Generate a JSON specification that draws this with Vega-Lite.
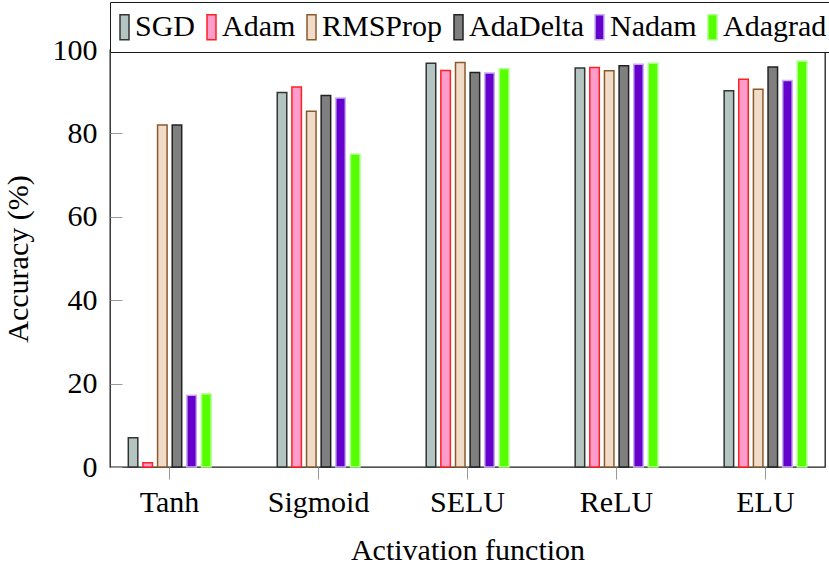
{
  "$schema": "https://vega.github.io/schema/vega-lite/v6.json",
  "width": 715,
  "height": 417,
  "autosize": {"type": "none"},
  "padding": {"left": 110, "top": 50, "right": 4, "bottom": 102},
  "config": {
    "font": "Liberation Serif",
    "view": {"stroke": "#1a1a1a", "strokeWidth": 1.3}
  },
  "data": {
    "values": [
      {"activation": "Tanh", "optimizer": "SGD", "accuracy": 7.0},
      {"activation": "Tanh", "optimizer": "Adam", "accuracy": 1.0},
      {"activation": "Tanh", "optimizer": "RMSProp", "accuracy": 82.0},
      {"activation": "Tanh", "optimizer": "AdaDelta", "accuracy": 82.0},
      {"activation": "Tanh", "optimizer": "Nadam", "accuracy": 17.2},
      {"activation": "Tanh", "optimizer": "Adagrad", "accuracy": 17.5},
      {"activation": "Sigmoid", "optimizer": "SGD", "accuracy": 89.8},
      {"activation": "Sigmoid", "optimizer": "Adam", "accuracy": 91.1},
      {"activation": "Sigmoid", "optimizer": "RMSProp", "accuracy": 85.3},
      {"activation": "Sigmoid", "optimizer": "AdaDelta", "accuracy": 89.1},
      {"activation": "Sigmoid", "optimizer": "Nadam", "accuracy": 88.5},
      {"activation": "Sigmoid", "optimizer": "Adagrad", "accuracy": 75.0},
      {"activation": "SELU", "optimizer": "SGD", "accuracy": 96.8},
      {"activation": "SELU", "optimizer": "Adam", "accuracy": 95.1},
      {"activation": "SELU", "optimizer": "RMSProp", "accuracy": 97.0},
      {"activation": "SELU", "optimizer": "AdaDelta", "accuracy": 94.6},
      {"activation": "SELU", "optimizer": "Nadam", "accuracy": 94.5},
      {"activation": "SELU", "optimizer": "Adagrad", "accuracy": 95.5},
      {"activation": "ReLU", "optimizer": "SGD", "accuracy": 95.7},
      {"activation": "ReLU", "optimizer": "Adam", "accuracy": 95.8},
      {"activation": "ReLU", "optimizer": "RMSProp", "accuracy": 95.0},
      {"activation": "ReLU", "optimizer": "AdaDelta", "accuracy": 96.2},
      {"activation": "ReLU", "optimizer": "Nadam", "accuracy": 96.6},
      {"activation": "ReLU", "optimizer": "Adagrad", "accuracy": 96.8},
      {"activation": "ELU", "optimizer": "SGD", "accuracy": 90.2},
      {"activation": "ELU", "optimizer": "Adam", "accuracy": 93.0},
      {"activation": "ELU", "optimizer": "RMSProp", "accuracy": 90.6},
      {"activation": "ELU", "optimizer": "AdaDelta", "accuracy": 95.9},
      {"activation": "ELU", "optimizer": "Nadam", "accuracy": 92.7},
      {"activation": "ELU", "optimizer": "Adagrad", "accuracy": 97.3}
    ]
  },
  "mark": {"type": "bar", "strokeWidth": 1.5},
  "encoding": {
    "x": {
      "field": "activation",
      "type": "nominal",
      "sort": ["Tanh", "Sigmoid", "SELU", "ReLU", "ELU"],
      "scale": {"paddingInner": 0.2, "paddingOuter": 0},
      "title": "Activation function",
      "axis": {
        "domain": false,
        "labelAngle": 0,
        "labelFontSize": 30,
        "labelColor": "#000",
        "labelPadding": 8,
        "tickSize": 12,
        "tickColor": "#999",
        "tickWidth": 1,
        "titleFontSize": 30,
        "titleFontWeight": "normal",
        "titleColor": "#000",
        "titlePadding": 18
      }
    },
    "xOffset": {
      "field": "optimizer",
      "type": "nominal",
      "sort": ["SGD", "Adam", "RMSProp", "AdaDelta", "Nadam", "Adagrad"],
      "scale": {"range": [18.3, 101], "paddingInner": 0.35, "paddingOuter": 0}
    },
    "y": {
      "field": "accuracy",
      "type": "quantitative",
      "scale": {"domain": [0, 100], "nice": false},
      "title": "Accuracy (%)",
      "axis": {
        "domain": false,
        "grid": false,
        "values": [0, 20, 40, 60, 80, 100],
        "labelFontSize": 30,
        "labelColor": "#000",
        "labelPadding": 25,
        "tickSize": -12,
        "tickColor": "#999",
        "tickWidth": 1,
        "titleFontSize": 30,
        "titleFontWeight": "normal",
        "titleColor": "#000",
        "titlePadding": 19
      }
    },
    "fill": {
      "field": "optimizer",
      "type": "nominal",
      "sort": ["SGD", "Adam", "RMSProp", "AdaDelta", "Nadam", "Adagrad"],
      "scale": {
        "domain": ["SGD", "Adam", "RMSProp", "AdaDelta", "Nadam", "Adagrad"],
        "range": ["#b4c4c0", "#ff9ccc", "#f0dcc8", "#7f7f7f", "#6600cc", "#55ff00"]
      },
      "legend": {
        "title": null,
        "orient": "none",
        "legendX": 0,
        "legendY": -48,
        "direction": "horizontal",
        "fillColor": "white",
        "strokeColor": "#1a1a1a",
        "padding": 9,
        "symbolType": "M-1,-0.833H-0.4V0.833H-1Z",
        "symbolSize": 900,
        "symbolStrokeWidth": 1.5,
        "symbolOpacity": 1,
        "labelFontSize": 30,
        "labelColor": "#000",
        "labelOffset": -16,
        "columnPadding": 8
      }
    },
    "stroke": {
      "field": "optimizer",
      "type": "nominal",
      "sort": ["SGD", "Adam", "RMSProp", "AdaDelta", "Nadam", "Adagrad"],
      "scale": {
        "domain": ["SGD", "Adam", "RMSProp", "AdaDelta", "Nadam", "Adagrad"],
        "range": ["#333333", "#ff2020", "#8b5a2b", "#222222", "#c8b0f0", "#a8ff80"]
      }
    }
  }
}
